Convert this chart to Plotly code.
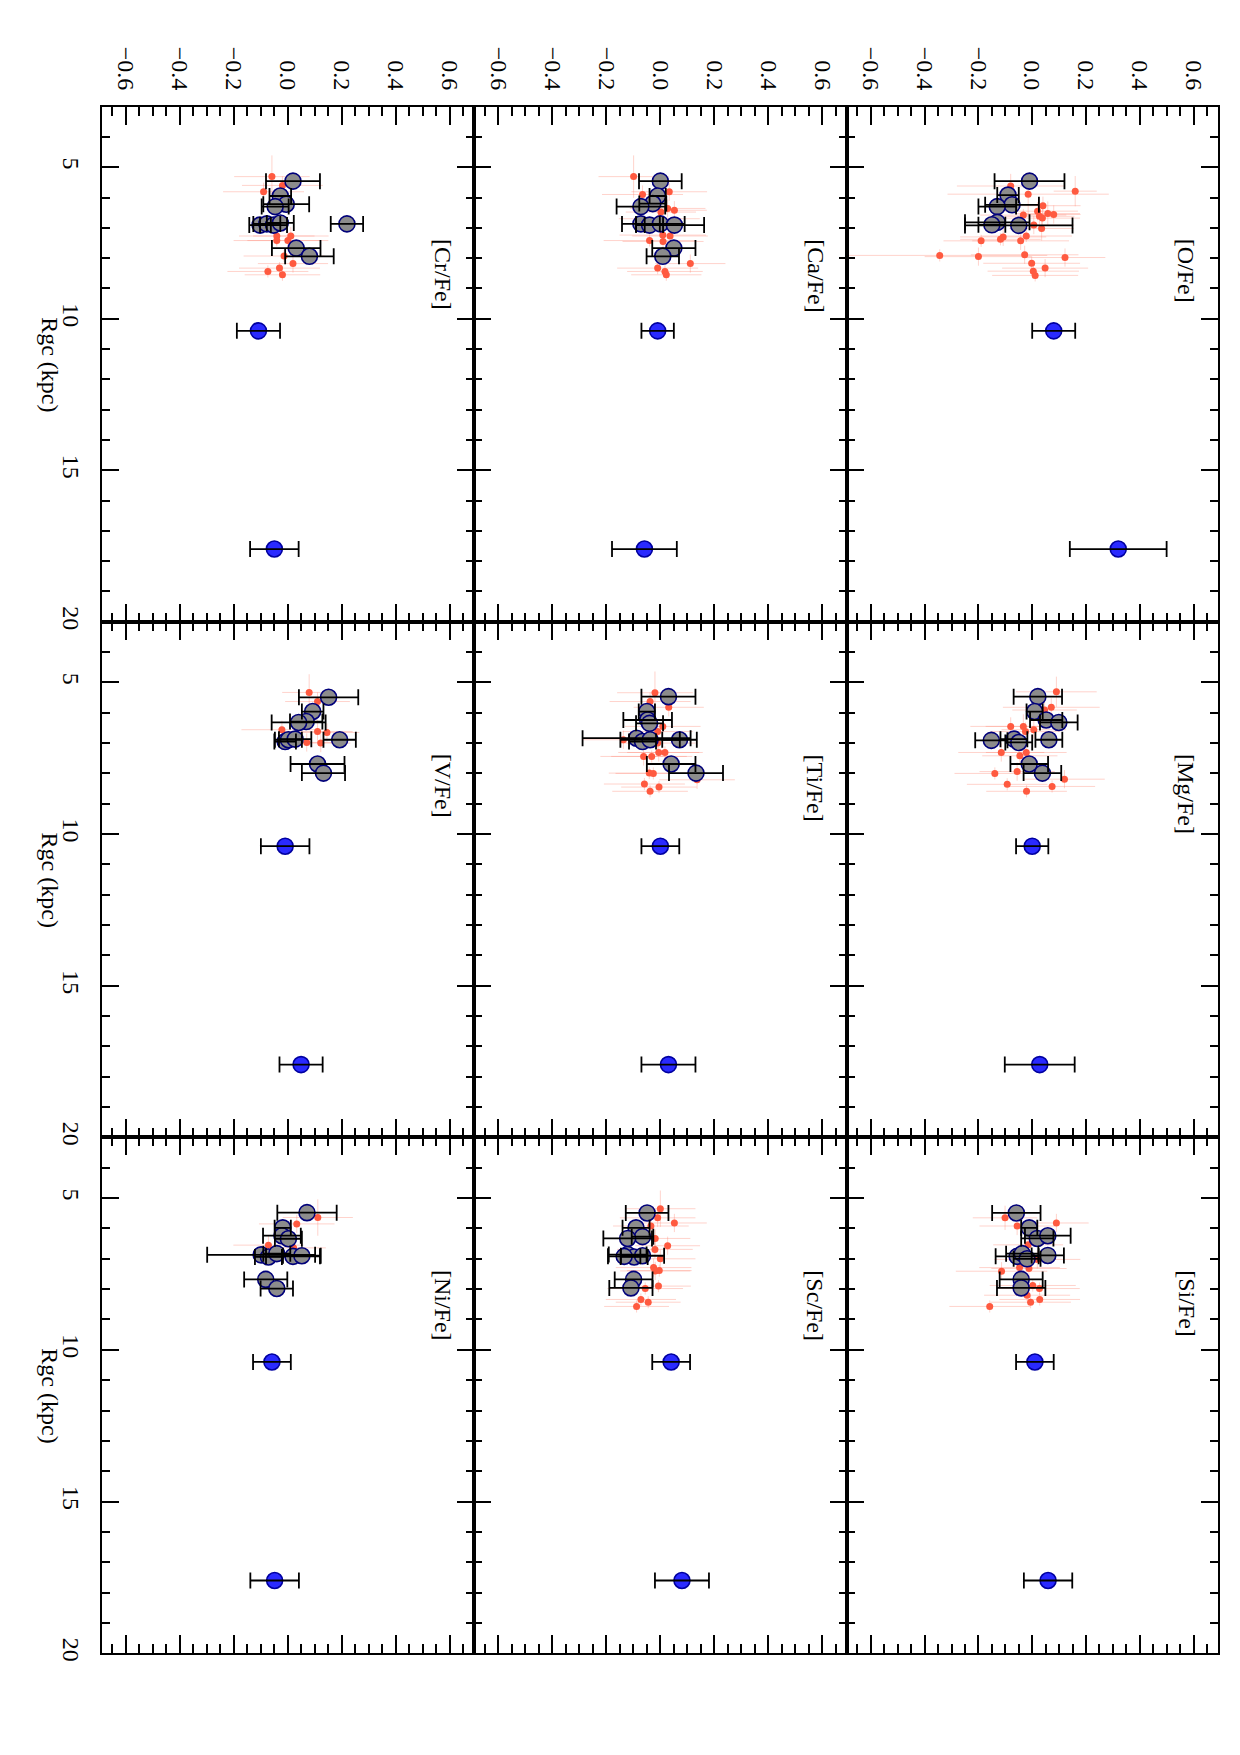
import plotly.graph_objects as go

# ---------------- data (abundance [X/Fe] vs Rgc in kpc) ----------------
blue_R = [10.4, 17.6]

# [O/Fe]
O_red_R = [5.62, 5.79, 5.89, 6.27, 6.45, 6.53, 6.56, 6.58, 6.62, 6.68, 6.91, 7.02, 7.27, 7.30, 7.38, 7.43, 7.43, 7.89, 7.91, 7.95, 7.98, 8.17, 8.33, 8.43, 8.57]
O_red_v = [-0.08, 0.16, -0.015, 0.04, 0.02, 0.058, 0.08, -0.033, 0.027, 0.038, 0.006, 0.035, -0.022, -0.108, -0.118, -0.043, -0.19, -0.028, -0.344, -0.2, 0.122, -0.002, 0.048, 0.004, 0.011]
O_red_ve = [0.2, 0.08, 0.3, 0.14, 0.15, 0.12, 0.1, 0.16, 0.13, 0.14, 0.15, 0.12, 0.17, 0.16, 0.15, 0.18, 0.14, 0.2, 0.4, 0.2, 0.15, 0.18, 0.16, 0.17, 0.16]
O_red_Re = [0.4, 0.5, 0.7, 0.3, 0.3, 0.4, 0.3, 0.2, 0.3, 0.3, 0.3, 0.4, 0.2, 0.3, 0.2, 0.3, 0.2, 0.3, 0.2, 0.3, 0.3, 0.2, 0.3, 0.2, 0.2]
O_gr_R = [5.46, 5.92, 6.24, 6.30, 6.82, 6.90, 6.92]
O_gr_v = [-0.01, -0.09, -0.075, -0.13, -0.13, -0.15, -0.05]
O_gr_e = [0.13, 0.04, 0.10, 0.07, 0.12, 0.05, 0.20]
O_bl_v = [0.08, 0.32]
O_bl_e = [0.08, 0.18]

# [Mg/Fe]
Mg_red_R = [5.31, 5.82, 5.91, 6.45, 6.45, 6.62, 6.56, 7.31, 7.31, 7.42, 8.00, 7.94, 8.19, 8.36, 8.43, 8.59]
Mg_red_v = [0.09, 0.071, 0.046, -0.08, -0.033, -0.025, 0.006, -0.115, -0.022, -0.046, -0.139, -0.056, 0.12, -0.093, 0.074, -0.021]
Mg_red_ve = [0.15, 0.18, 0.12, 0.15, 0.14, 0.13, 0.12, 0.16, 0.15, 0.14, 0.15, 0.14, 0.15, 0.15, 0.16, 0.15]
Mg_red_Re = [0.5, 0.3, 0.4, 0.3, 0.4, 0.3, 0.3, 0.3, 0.2, 0.3, 0.2, 0.3, 0.3, 0.2, 0.2, 0.2]
Mg_gr_R = [5.47, 5.96, 6.24, 6.32, 6.91, 6.87, 6.98, 6.89, 7.69, 7.99]
Mg_gr_v = [0.021, 0.009, 0.052, 0.099, -0.152, -0.068, -0.05, 0.062, -0.011, 0.038]
Mg_gr_e = [0.09, 0.03, 0.06, 0.07, 0.06, 0.05, 0.05, 0.05, 0.07, 0.07]
Mg_bl_v = [0.0, 0.028]
Mg_bl_e = [0.06, 0.13]

# [Si/Fe]
Si_red_R = [5.65, 5.92, 5.82, 6.54, 7.02, 7.41, 7.29, 7.32, 7.88, 7.98, 8.20, 8.43, 8.34, 8.57]
Si_red_v = [-0.101, -0.056, 0.09, -0.015, 0.019, -0.114, -0.047, -0.012, 0.002, 0.027, -0.019, -0.006, 0.028, -0.158]
Si_red_ve = [0.12, 0.14, 0.12, 0.13, 0.16, 0.17, 0.15, 0.14, 0.16, 0.15, 0.16, 0.15, 0.15, 0.15]
Si_red_Re = [0.4, 0.3, 0.3, 0.3, 0.3, 0.3, 0.2, 0.3, 0.2, 0.2, 0.2, 0.2, 0.2, 0.2]
Si_gr_R = [5.49, 5.98, 6.33, 6.24, 6.92, 6.83, 7.00, 6.89, 7.68, 7.96]
Si_gr_v = [-0.059, -0.011, 0.019, 0.058, -0.056, -0.037, -0.019, 0.058, -0.041, -0.041]
Si_gr_e = [0.09, 0.03, 0.06, 0.085, 0.08, 0.06, 0.05, 0.06, 0.08, 0.09]
Si_bl_v = [0.01, 0.059]
Si_bl_e = [0.07, 0.09]

# [Ca/Fe]
Ca_red_R = [5.31, 5.90, 5.81, 6.36, 6.42, 6.48, 6.70, 7.24, 7.27, 7.42, 7.45, 8.18, 8.33, 8.44, 8.55]
Ca_red_v = [-0.099, -0.066, 0.033, 0.027, 0.052, 0.002, -0.004, 0.009, 0.036, -0.04, 0.01, 0.111, -0.01, 0.017, 0.022]
Ca_red_ve = [0.13, 0.15, 0.14, 0.14, 0.12, 0.13, 0.15, 0.16, 0.14, 0.17, 0.15, 0.13, 0.15, 0.14, 0.13]
Ca_red_Re = [0.7, 0.3, 0.3, 0.3, 0.3, 0.3, 0.3, 0.3, 0.3, 0.2, 0.3, 0.3, 0.2, 0.2, 0.2]
Ca_gr_R = [5.46, 5.95, 6.20, 6.30, 6.87, 6.91, 6.87, 6.91, 7.67, 7.94]
Ca_gr_v = [0.0, -0.01, -0.028, -0.072, -0.072, -0.04, 0.0, 0.052, 0.05, 0.009]
Ca_gr_e = [0.079, 0.03, 0.05, 0.09, 0.07, 0.05, 0.09, 0.11, 0.08, 0.06]
Ca_bl_v = [-0.01, -0.059]
Ca_bl_e = [0.06, 0.12]

# [Ti/Fe]
Ti_red_R = [5.34, 5.63, 5.82, 6.45, 6.62, 6.89, 7.00, 7.31, 7.31, 7.44, 7.44, 7.99, 8.00, 8.21, 8.35, 8.45, 8.59]
Ti_red_v = [-0.02, -0.038, 0.031, 0.009, -0.01, -0.137, -0.01, -0.006, 0.017, -0.062, -0.032, -0.041, -0.026, 0.136, -0.059, -0.005, -0.038]
Ti_red_ve = [0.14, 0.15, 0.13, 0.14, 0.13, 0.15, 0.14, 0.15, 0.14, 0.16, 0.15, 0.15, 0.14, 0.14, 0.15, 0.14, 0.14]
Ti_red_Re = [0.7, 0.3, 0.3, 0.3, 0.3, 0.3, 0.3, 0.3, 0.2, 0.3, 0.2, 0.2, 0.2, 0.3, 0.2, 0.2, 0.2]
Ti_gr_R = [5.47, 5.96, 6.24, 6.35, 6.84, 6.95, 6.89, 6.89, 7.69, 7.99]
Ti_gr_v = [0.03, -0.05, -0.047, -0.04, -0.088, -0.066, -0.038, 0.071, 0.04, 0.132]
Ti_gr_e = [0.10, 0.03, 0.09, 0.05, 0.20, 0.05, 0.11, 0.064, 0.09, 0.10]
Ti_bl_v = [0.0, 0.03]
Ti_bl_e = [0.07, 0.10]

# [Sc/Fe]
Sc_red_R = [5.35, 5.65, 5.82, 5.92, 6.33, 6.57, 6.69, 7.00, 7.29, 7.39, 7.40, 7.98, 7.90, 8.34, 8.43, 8.57]
Sc_red_v = [0.0, -0.01, 0.052, -0.035, -0.019, 0.027, -0.02, 0.0, -0.025, -0.004, -0.019, -0.056, -0.007, -0.072, -0.045, -0.088]
Sc_red_ve = [0.13, 0.14, 0.12, 0.14, 0.13, 0.12, 0.14, 0.13, 0.14, 0.12, 0.13, 0.14, 0.12, 0.13, 0.12, 0.12]
Sc_red_Re = [0.6, 0.3, 0.3, 0.3, 0.3, 0.3, 0.3, 0.3, 0.3, 0.2, 0.3, 0.2, 0.2, 0.2, 0.2, 0.2]
Sc_gr_R = [5.49, 5.98, 6.27, 6.33, 6.86, 6.94, 6.90, 6.92, 7.68, 7.96]
Sc_gr_v = [-0.049, -0.09, -0.066, -0.121, -0.121, -0.097, -0.066, -0.134, -0.099, -0.109]
Sc_gr_e = [0.079, 0.05, 0.04, 0.09, 0.07, 0.05, 0.08, 0.06, 0.07, 0.08]
Sc_bl_v = [0.04, 0.08]
Sc_bl_e = [0.07, 0.10]

# [Cr/Fe]
Cr_red_R = [5.31, 5.60, 5.81, 7.27, 7.42, 7.42, 7.27, 7.93, 8.18, 8.33, 8.44, 8.55]
Cr_red_v = [-0.059, -0.02, -0.09, -0.041, -0.041, 0.0, 0.011, -0.014, 0.019, -0.031, -0.074, -0.02]
Cr_red_ve = [0.14, 0.15, 0.15, 0.14, 0.16, 0.15, 0.14, 0.15, 0.13, 0.15, 0.15, 0.14]
Cr_red_Re = [0.7, 0.3, 0.3, 0.3, 0.2, 0.3, 0.3, 0.2, 0.3, 0.2, 0.2, 0.2]
Cr_gr_R = [5.46, 5.95, 6.22, 6.30, 6.91, 6.87, 6.91, 6.84, 6.87, 7.67, 7.94]
Cr_gr_v = [0.019, -0.028, -0.006, -0.047, -0.103, -0.078, -0.053, -0.028, 0.219, 0.031, 0.08]
Cr_gr_e = [0.10, 0.04, 0.085, 0.05, 0.04, 0.05, 0.05, 0.05, 0.06, 0.09, 0.09]
Cr_bl_v = [-0.109, -0.05]
Cr_bl_e = [0.08, 0.09]

# [V/Fe]
V_red_R = [5.33, 5.63, 6.56, 6.62, 6.65, 6.98, 7.00]
V_red_v = [0.079, 0.11, -0.022, 0.11, 0.145, 0.07, 0.122]
V_red_ve = [0.10, 0.12, 0.15, 0.13, 0.12, 0.10, 0.11]
V_red_Re = [0.6, 0.3, 0.3, 0.4, 0.3, 0.3, 0.3]
V_gr_R = [5.49, 5.96, 6.29, 6.32, 6.95, 6.89, 6.87, 6.89, 7.69, 7.99]
V_gr_v = [0.151, 0.092, 0.068, 0.04, -0.01, 0.002, 0.027, 0.192, 0.11, 0.132]
V_gr_e = [0.11, 0.04, 0.06, 0.10, 0.04, 0.05, 0.06, 0.06, 0.10, 0.08]
V_bl_v = [-0.01, 0.049]
V_bl_e = [0.09, 0.08]

# [Ni/Fe]
Ni_red_R = [5.64, 5.85, 6.55, 6.64]
Ni_red_v = [0.111, 0.033, -0.072, 0.021]
Ni_red_ve = [0.13, 0.14, 0.13, 0.12]
Ni_red_Re = [0.6, 0.3, 0.3, 0.3]
Ni_gr_R = [5.48, 5.98, 6.24, 6.34, 6.87, 6.94, 6.83, 6.92, 6.90, 7.68, 7.98]
Ni_gr_v = [0.071, -0.019, -0.022, 0.002, -0.099, -0.072, -0.041, 0.019, 0.052, -0.082, -0.041]
Ni_gr_e = [0.11, 0.03, 0.07, 0.05, 0.20, 0.05, 0.05, 0.10, 0.07, 0.08, 0.06]
Ni_bl_v = [-0.059, -0.049]
Ni_bl_e = [0.07, 0.09]

labels = ["[O/Fe]", "[Mg/Fe]", "[Si/Fe]", "[Ca/Fe]", "[Ti/Fe]", "[Sc/Fe]", "[Cr/Fe]", "[V/Fe]", "[Ni/Fe]"]
abund_ticks = [-0.6, -0.4, -0.2, 0.0, 0.2, 0.4, 0.6]
rgc_ticks = [5, 10, 15, 20]

panels = [
    (O_red_R, O_red_v, O_red_ve, O_red_Re, O_gr_R, O_gr_v, O_gr_e, O_bl_v, O_bl_e),
    (Mg_red_R, Mg_red_v, Mg_red_ve, Mg_red_Re, Mg_gr_R, Mg_gr_v, Mg_gr_e, Mg_bl_v, Mg_bl_e),
    (Si_red_R, Si_red_v, Si_red_ve, Si_red_Re, Si_gr_R, Si_gr_v, Si_gr_e, Si_bl_v, Si_bl_e),
    (Ca_red_R, Ca_red_v, Ca_red_ve, Ca_red_Re, Ca_gr_R, Ca_gr_v, Ca_gr_e, Ca_bl_v, Ca_bl_e),
    (Ti_red_R, Ti_red_v, Ti_red_ve, Ti_red_Re, Ti_gr_R, Ti_gr_v, Ti_gr_e, Ti_bl_v, Ti_bl_e),
    (Sc_red_R, Sc_red_v, Sc_red_ve, Sc_red_Re, Sc_gr_R, Sc_gr_v, Sc_gr_e, Sc_bl_v, Sc_bl_e),
    (Cr_red_R, Cr_red_v, Cr_red_ve, Cr_red_Re, Cr_gr_R, Cr_gr_v, Cr_gr_e, Cr_bl_v, Cr_bl_e),
    (V_red_R, V_red_v, V_red_ve, V_red_Re, V_gr_R, V_gr_v, V_gr_e, V_bl_v, V_bl_e),
    (Ni_red_R, Ni_red_v, Ni_red_ve, Ni_red_Re, Ni_gr_R, Ni_gr_v, Ni_gr_e, Ni_bl_v, Ni_bl_e),
]

# ---------------- layout geometry (pixels in the 1240x1755 page) ----------------
W, H = 1240, 1755
col_px = [(101.7, 474.0), (474.0, 846.7), (846.7, 1217.7)]
row_px = [(107.1, 624.6), (624.6, 1142.6), (1142.6, 1660.9)]
# panel i -> (col, row)
pos = [(2, 0), (2, 1), (2, 2), (1, 0), (1, 1), (1, 2), (0, 0), (0, 1), (0, 2)]

FONT = "Liberation Serif"
fig = go.Figure()
layout = dict(
    width=W, height=H, margin=dict(l=0, r=0, t=0, b=0),
    paper_bgcolor="white", plot_bgcolor="white", showlegend=False,
    font=dict(family=FONT, size=24, color="black"),
)
annotations = []

for i, (rR, rv, rve, rRe, gR, gv, ge, bv, be) in enumerate(panels):
    c, r = pos[i]
    n = i + 1
    xa = "x" if n == 1 else f"x{n}"
    ya = "y" if n == 1 else f"y{n}"
    xkey = "xaxis" if n == 1 else f"xaxis{n}"
    ykey = "yaxis" if n == 1 else f"yaxis{n}"

    # red stars with pale error bars
    fig.add_trace(go.Scatter(
        x=rv, y=rR, mode="markers", xaxis=xa, yaxis=ya,
        marker=dict(size=7, color="#FF5A40", line=dict(width=0)),
        error_x=dict(type="data", array=rve, color="rgba(255,130,110,0.35)", thickness=1, width=0),
        error_y=dict(type="data", array=rRe, color="rgba(255,130,110,0.35)", thickness=1, width=0),
    ))
    # grey cluster means
    fig.add_trace(go.Scatter(
        x=gv, y=gR, mode="markers", xaxis=xa, yaxis=ya,
        marker=dict(size=16, color="#8C8C8C", line=dict(width=1.6, color="#00007A")),
    ))
    fig.add_trace(go.Scatter(
        x=gv, y=gR, mode="markers", xaxis=xa, yaxis=ya,
        marker=dict(size=1, color="rgba(0,0,0,0)"),
        error_x=dict(type="data", array=ge, color="black", thickness=1.8, width=8),
    ))
    # blue outer points
    fig.add_trace(go.Scatter(
        x=bv, y=blue_R, mode="markers", xaxis=xa, yaxis=ya,
        marker=dict(size=16, color="#2A2AFF", line=dict(width=1.6, color="#0000A0")),
    ))
    fig.add_trace(go.Scatter(
        x=bv, y=blue_R, mode="markers", xaxis=xa, yaxis=ya,
        marker=dict(size=1, color="rgba(0,0,0,0)"),
        error_x=dict(type="data", array=be, color="black", thickness=1.8, width=8),
    ))

    x0, x1 = col_px[c]
    y0, y1 = row_px[r]
    layout[xkey] = dict(
        domain=[x0 / W, x1 / W], anchor=ya, range=[-0.69, 0.69],
        tickvals=abund_ticks, tickformat=".1f",
        ticks="inside", ticklen=18, tickwidth=1.6, tickcolor="black",
        minor=dict(dtick=0.05, tick0=0, ticks="inside", ticklen=9, tickwidth=1.6, tickcolor="black"),
        showline=True, linecolor="black", linewidth=1.8, mirror="allticks",
        showgrid=False, zeroline=False,
        side="top", showticklabels=(r == 0), tickangle=90,
        ticklabelstandoff=6,
        tickfont=dict(family=FONT, size=24, color="black"),
    )
    layout[ykey] = dict(
        domain=[1 - y1 / H, 1 - y0 / H], anchor=xa, range=[20, 3],
        tickvals=rgc_ticks,
        ticks="inside", ticklen=17, tickwidth=1.6, tickcolor="black",
        minor=dict(dtick=1, tick0=0, ticks="inside", ticklen=8, tickwidth=1.6, tickcolor="black"),
        showline=True, linecolor="black", linewidth=1.8, mirror="allticks",
        showgrid=False, zeroline=False,
        side="left", showticklabels=(c == 0), tickangle=90,
        ticklabelstandoff=8,
        tickfont=dict(family=FONT, size=24, color="black"),
    )
    annotations.append(dict(
        text=labels[i], x=0.573, y=7.3, xref=xa, yref=ya,
        xanchor="center", yanchor="top", textangle=90, showarrow=False,
        font=dict(family=FONT, size=24, color="black"),
    ))

for r in range(3):
    y0, y1 = row_px[r]
    annotations.append(dict(
        text="Rgc (kpc)", x=50 / W, y=1 - (y0 + y1) / 2 / H, xref="paper", yref="paper",
        xanchor="center", yanchor="middle", textangle=90, showarrow=False,
        font=dict(family=FONT, size=24, color="black"),
    ))

layout["annotations"] = annotations
fig.update_layout(**layout)
fig.write_html("out.html")
